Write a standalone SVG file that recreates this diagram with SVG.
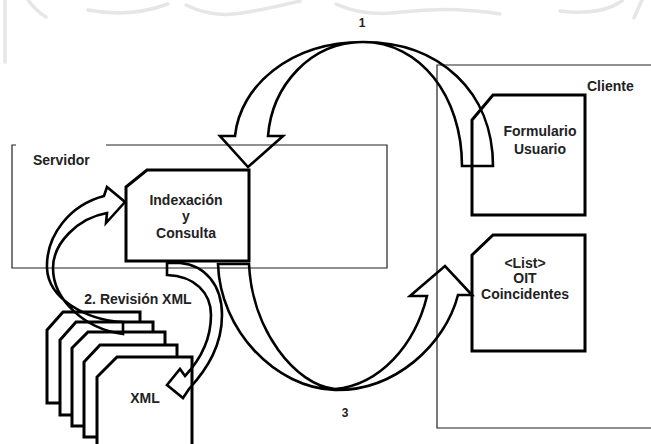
<svg xmlns="http://www.w3.org/2000/svg" width="651" height="444" viewBox="0 0 651 444">
  <style>
    .bg { fill: #ffffff; }
    .frame { fill: none; stroke: #222; stroke-width: 1.2; }
    .node { fill: none; stroke: #000; stroke-width: 3; stroke-linejoin: miter; }
    .doc { fill: #ffffff; stroke: #000; stroke-width: 3; stroke-linejoin: miter; }
    .flow { fill: none; stroke: #000; stroke-width: 2.6; stroke-linejoin: miter; }
    .label { font-family: "Liberation Sans", Arial, sans-serif; font-weight: bold; font-size: 14px; fill: #222; }
    .mid { text-anchor: middle; }
    .num { font-size: 12px; }
    .mark { fill: none; stroke: #e6e6e6; stroke-width: 3.5; stroke-linecap: round; }
  </style>

  <rect class="bg" x="0" y="0" width="651" height="444"/>

  <!-- faint seal in the page header -->
  <g id="header-seal">
    <path class="mark" d="M5,0 L5,62"/>
    <path class="mark" d="M28,0 Q36,11 46,17"/>
    <path class="mark" d="M88,10 Q130,18 168,4"/>
    <path class="mark" d="M186,5 Q212,18 242,13 Q272,8 300,1"/>
    <path class="mark" d="M336,4 Q364,17 402,12 Q452,6 500,14"/>
    <path class="mark" d="M560,11 Q600,16 622,1"/>
    <path class="mark" d="M642,0 L634,18"/>
  </g>

  <!-- container frames -->
  <g id="servidor">
    <path class="frame" d="M16,145 L12,145 L12,268 L387,268 L387,145 L106,145"/>
    <text class="label" x="33" y="165">Servidor</text>
  </g>
  <g id="cliente">
    <path class="frame" d="M660,65 L437,65 L437,428 L660,428"/>
    <text class="label" x="587" y="91">Cliente</text>
  </g>

  <!-- stack of XML documents, back to front -->
  <g id="xml-docs">
    <path class="doc" d="M47,403 L47,330 L63,312 L140,312 L140,403 Z"/>
    <path class="doc" d="M60,415 L60,340 L76,322 L153,322 L153,415 Z"/>
    <path class="doc" d="M72,426 L72,348 L88,332 L165,332 L165,426 Z"/>
    <path class="doc" d="M84,437 L84,362 L100,345 L177,345 L177,437 Z"/>
    <path class="doc" d="M97,450 L97,377 L117,357 L192,357 L192,450 Z"/>
    <text class="label mid" x="145" y="403">XML</text>
  </g>

  <g id="indexacion">
    <path class="node" d="M126,187 L147,170 L249,170 L249,261 L126,261 Z"/>
    <text class="label mid" x="186" y="205">Indexación</text>
    <text class="label mid" x="186" y="221">y</text>
    <text class="label mid" x="186" y="238">Consulta</text>
  </g>

  <g id="formulario">
    <path class="node" d="M472,120 L493,95 L585,95 L585,215 L472,215 Z"/>
    <text class="label mid" x="540" y="136">Formulario</text>
    <text class="label mid" x="540" y="154">Usuario</text>
  </g>

  <g id="lista">
    <path class="node" d="M472,255 L493,235 L585,235 L585,351 L472,351 Z"/>
    <text class="label mid" x="525" y="268">&lt;List&gt;</text>
    <text class="label mid" x="525" y="283">OIT</text>
    <text class="label mid" x="525" y="299">Coincidentes</text>
  </g>

  <!-- curved block arrows -->
  <g id="connectors">
    <!-- 1: form request to the server -->
    <path class="flow" d="M462,166 L493,166 C493,92 440,42 363,42 C290,42 240,86 235,136 L220,136 L248,167 L283,136 L268,136 C272,86 310,42 363,42 C420,42 462,96 462,166 Z"/>
    <!-- 2: review of the XML records (down, then back up) -->
    <path class="flow" d="M167,263 L180,263 C205,265 222,285 222,315 C222,345 208,368 189,389 L183,398 L167,385 L180,369 L185,376 C200,360 211,340 211,315 C211,293 195,276 167,275 Z"/>
    <path class="flow" d="M123,322 L123,334 C85,329 53,300 53,268 C53,243 78,218 107,213 L106,223 L125,202 L107,187 L104,196 C70,205 46,235 47,268 C48,298 85,320 123,322 Z"/>
    <!-- 3: matching list back to the client -->
    <path class="flow" d="M218,264 L249,264 C252,330 295,385 335,389 C380,385 415,345 427,296 L410,296 L445,266 L472,295 L458,295 C445,345 395,391 335,390 C275,388 220,330 218,264 Z"/>
  </g>

  <text class="label mid num" x="362" y="27">1</text>
  <text class="label mid" x="138" y="304">2. Revisión XML</text>
  <text class="label mid num" x="345" y="417">3</text>
</svg>
